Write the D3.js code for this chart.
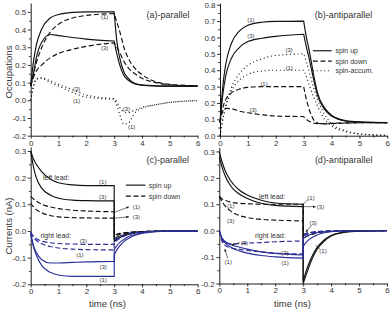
<!DOCTYPE html>
<html>
<head>
<meta charset="utf-8">
<script src="https://cdn.jsdelivr.net/npm/d3@7"></script>
<style>
  body { margin: 0; background: #fff; }
  svg { display: block; font-family: "Liberation Sans", Arial, sans-serif; }
</style>
</head>
<body>
<svg id="chart" width="390" height="310"></svg>
<script>
// time grid (ns): bias on from 0 to 3, relaxation after switch-off from 3 to 6
const time = [0, 0.1, 0.2, 0.4, 0.7, 1, 1.5, 2, 3, 3, 3.1, 3.2, 3.35, 3.5, 3.75, 4, 4.5, 5, 6];

// (a) occupations, parallel
const aUp1  = [0.08, 0.22, 0.31, 0.405, 0.465, 0.485, 0.497, 0.5, 0.5, 0.5, 0.33, 0.24, 0.16, 0.125, 0.095, 0.087, 0.082, 0.08, 0.08];
const aUp3  = [0.08, 0.15, 0.24, 0.33, 0.372, 0.366, 0.355, 0.346, 0.335, 0.335, 0.26, 0.2, 0.14, 0.115, 0.093, 0.085, 0.081, 0.08, 0.08];
const aDn1  = [0.08, 0.15, 0.21, 0.3, 0.385, 0.43, 0.465, 0.48, 0.49, 0.49, 0.44, 0.39, 0.3, 0.24, 0.18, 0.145, 0.105, 0.09, 0.082];
const aDn3  = [0.08, 0.13, 0.165, 0.2, 0.24, 0.265, 0.288, 0.305, 0.325, 0.325, 0.3, 0.27, 0.22, 0.185, 0.15, 0.125, 0.1, 0.088, 0.081];
const aAcc1 = [0, 0.08, 0.12, 0.125, 0.1, 0.08, 0.045, 0.018, 0.006, 0.006, -0.03, -0.08, -0.135, -0.13, -0.07, -0.045, -0.025, -0.012, -0.002];
const aAcc3 = [0, 0.08, 0.12, 0.128, 0.11, 0.09, 0.06, 0.03, 0.01, 0.01, -0.01, -0.04, -0.065, -0.07, -0.055, -0.04, -0.025, -0.012, -0.002];

// (b) occupations, antiparallel
const bUp1  = [0.08, 0.3, 0.43, 0.56, 0.64, 0.675, 0.693, 0.698, 0.7, 0.7, 0.6, 0.52, 0.38, 0.26, 0.17, 0.125, 0.092, 0.084, 0.08];
const bUp3  = [0.08, 0.25, 0.36, 0.47, 0.54, 0.575, 0.595, 0.607, 0.62, 0.62, 0.54, 0.47, 0.35, 0.245, 0.16, 0.12, 0.09, 0.083, 0.08];
const bDn1  = [0.08, 0.17, 0.22, 0.26, 0.285, 0.295, 0.3, 0.3, 0.3, 0.3, 0.22, 0.16, 0.1, 0.078, 0.072, 0.074, 0.077, 0.079, 0.08];
const bDn3  = [0.08, 0.15, 0.167, 0.165, 0.15, 0.14, 0.128, 0.12, 0.117, 0.117, 0.1, 0.088, 0.078, 0.074, 0.074, 0.076, 0.078, 0.079, 0.08];
const bAcc1 = [0, 0.1, 0.17, 0.27, 0.34, 0.375, 0.395, 0.4, 0.4, 0.4, 0.36, 0.31, 0.24, 0.18, 0.1, 0.06, 0.025, 0.01, 0.002];
const bAcc3 = [0, 0.1, 0.18, 0.29, 0.38, 0.43, 0.47, 0.49, 0.5, 0.5, 0.45, 0.39, 0.3, 0.22, 0.13, 0.075, 0.03, 0.012, 0.002];

// (c) currents, parallel  (L = left lead, R = right lead)
const cLUp1 = [0.3, 0.27, 0.25, 0.222, 0.195, 0.181, 0.173, 0.17, 0.17, -0.04, -0.031, -0.025, -0.018, -0.013, -0.007, -0.004, -0.001, 0, 0];
const cLUp3 = [0.3, 0.24, 0.2, 0.16, 0.135, 0.123, 0.116, 0.114, 0.113, -0.03, -0.023, -0.019, -0.014, -0.01, -0.005, -0.003, -0.001, 0, 0];
const cLDn1 = [0.13, 0.12, 0.112, 0.1, 0.09, 0.084, 0.078, 0.075, 0.072, -0.02, -0.016, -0.012, -0.009, -0.006, -0.004, -0.002, -0.001, 0, 0];
const cLDn3 = [0.105, 0.09, 0.08, 0.068, 0.058, 0.053, 0.05, 0.049, 0.048, -0.015, -0.012, -0.009, -0.007, -0.005, -0.003, -0.002, 0, 0, 0];
const cRUp1 = [-0.01, -0.06, -0.09, -0.13, -0.155, -0.165, -0.17, -0.17, -0.17, -0.09, -0.07, -0.056, -0.04, -0.029, -0.016, -0.009, -0.003, -0.001, 0];
const cRUp3 = [-0.01, -0.055, -0.08, -0.108, -0.12, -0.12, -0.118, -0.116, -0.114, -0.07, -0.055, -0.043, -0.032, -0.022, -0.013, -0.007, -0.002, -0.001, 0];
const cRDn1 = [-0.005, -0.025, -0.035, -0.048, -0.058, -0.064, -0.068, -0.07, -0.071, -0.045, -0.035, -0.028, -0.02, -0.014, -0.008, -0.005, -0.001, 0, 0];
const cRDn3 = [-0.005, -0.02, -0.028, -0.038, -0.044, -0.047, -0.049, -0.05, -0.05, -0.035, -0.027, -0.022, -0.016, -0.011, -0.006, -0.004, -0.001, 0, 0];

// (d) currents, antiparallel
const dLUp1 = [0.3, 0.26, 0.23, 0.19, 0.155, 0.135, 0.115, 0.105, 0.1, -0.2, -0.17, -0.14, -0.1, -0.07, -0.04, -0.02, -0.006, -0.002, 0];
const dLUp3 = [0.28, 0.24, 0.21, 0.17, 0.14, 0.122, 0.104, 0.096, 0.091, -0.19, -0.155, -0.125, -0.09, -0.063, -0.035, -0.018, -0.005, -0.001, 0];
const dLDn1 = [0.13, 0.12, 0.115, 0.108, 0.104, 0.102, 0.1, 0.1, 0.1, -0.03, -0.023, -0.018, -0.013, -0.009, -0.005, -0.003, -0.001, 0, 0];
const dLDn3 = [0.13, 0.11, 0.095, 0.075, 0.058, 0.05, 0.043, 0.04, 0.037, -0.015, -0.011, -0.008, -0.006, -0.004, -0.002, -0.001, 0, 0, 0];
const dRUp1 = [0, -0.03, -0.045, -0.062, -0.076, -0.085, -0.094, -0.099, -0.104, -0.06, -0.045, -0.035, -0.024, -0.016, -0.008, -0.004, -0.001, 0, 0];
const dRUp3 = [0, -0.028, -0.04, -0.052, -0.062, -0.07, -0.08, -0.086, -0.092, -0.03, -0.022, -0.017, -0.011, -0.007, -0.004, -0.002, 0, 0, 0];
const dRDn1 = [0, -0.04, -0.055, -0.065, -0.07, -0.075, -0.08, -0.085, -0.088, -0.02, -0.015, -0.011, -0.007, -0.005, -0.003, -0.001, 0, 0, 0];
const dRDn3 = [0, -0.035, -0.045, -0.05, -0.049, -0.047, -0.045, -0.042, -0.039, -0.015, -0.011, -0.008, -0.005, -0.003, -0.002, -0.001, 0, 0, 0];

// ticks
const timeTicks = [0, 1, 2, 3, 4, 5, 6];
const timeMinor = [0.5, 1.5, 2.5, 3.5, 4.5, 5.5];
const occTicksA = [-0.2, -0.1, 0, 0.1, 0.2, 0.3, 0.4, 0.5];
const occMinorA = [-0.15, -0.05, 0.05, 0.15, 0.25, 0.35, 0.45];
const occTicksB = [0, 0.1, 0.2, 0.3, 0.4, 0.5, 0.6, 0.7, 0.8];
const occMinorB = [0.05, 0.15, 0.25, 0.35, 0.45, 0.55, 0.65, 0.75];
const curTicks = [-0.2, -0.1, 0, 0.1, 0.2, 0.3];
const curMinor = [-0.15, -0.05, 0.05, 0.15, 0.25];

const ink = '#111', blue = '#2b2e95', txt = '#333';
const SOLID = null, DASH = '5,2.6', DOT = '1,2.8';

const svg = d3.select('#chart');

svg.append('defs').append('marker')
  .attr('id', 'arr').attr('viewBox', '0 0 6 6').attr('refX', 5).attr('refY', 3)
  .attr('markerWidth', 5).attr('markerHeight', 5).attr('orient', 'auto')
  .append('path').attr('d', 'M0,0.5L6,3L0,5.5Z').attr('fill', '#222');

const panels = [
  {
    xr: [30.7, 197.6], yr: [135.7, 3], ydom: [-0.2, 0.55], yt: occTicksA, ym: occMinorA, pad: 2,
    title: '(a)-parallel', titleAt: [4.16, 0.485],
    series: [[aUp1, ink, SOLID], [aUp3, ink, SOLID], [aDn1, ink, DASH], [aDn3, ink, DASH], [aAcc1, ink, DOT], [aAcc3, ink, DOT]],
    labels: [[2.66, 0.47, '(1)'], [2.66, 0.298, '(3)'], [1.65, 0.065, '(3)'], [1.65, -0.001, '(1)'], [3.44, -0.048, '(3)'], [3.63, -0.148, '(1)']],
    arrows: [], notes: [], legend: null
  },
  {
    xr: [220, 387.3], yr: [135.7, 3.1], ydom: [0, 0.81], yt: occTicksB, ym: occMinorB, pad: 2,
    title: '(b)-antiparallel', titleAt: [3.4, 0.739],
    series: [[bUp1, ink, SOLID], [bUp3, ink, SOLID], [bDn1, ink, DASH], [bDn3, ink, DASH], [bAcc1, ink, DOT], [bAcc3, ink, DOT]],
    labels: [[1.11, 0.707, '(1)'], [1.11, 0.61, '(3)'], [2.48, 0.523, '(3)'], [2.48, 0.415, '(1)'], [1.58, 0.314, '(1)'], [1.19, 0.157, '(3)']],
    arrows: [], notes: [],
    legend: { x1: 3.33, x2: 4.01, xt: 4.14, rows: [[0.519, SOLID, 'spin up'], [0.456, DASH, 'spin down'], [0.397, DOT, 'spin-accum.']] }
  },
  {
    xr: [30.7, 197.7], yr: [284.3, 147], ydom: [-0.2, 0.315], yt: curTicks, ym: curMinor, pad: 0.8,
    title: '(c)-parallel', titleAt: [4.16, 0.266],
    series: [[cLUp1, ink, SOLID], [cLUp3, ink, SOLID], [cLDn1, ink, DASH], [cLDn3, ink, DASH],
             [cRUp1, blue, SOLID], [cRUp3, blue, SOLID], [cRDn1, blue, DASH], [cRDn3, blue, DASH]],
    labels: [[2.59, 0.183, '(1)'], [2.59, 0.126, '(3)'], [3.8, 0.09, '(1)'], [3.8, 0.053, '(3)'],
             [1.89, -0.036, '(3)'], [1.77, -0.09, '(1)'], [2.6, -0.134, '(3)'], [2.6, -0.184, '(1)']],
    arrows: [[3.03, 0.071, 3.52, 0.09, true], [3.03, 0.048, 3.52, 0.053, true]],
    notes: [[0.44, 0.2, 'left lead:'], [0.35, -0.018, 'right lead:']],
    legend: { x1: 3.42, x2: 4.12, xt: 4.24, rows: [[0.172, SOLID, 'spin up'], [0.131, DASH, 'spin down']] }
  },
  {
    xr: [219.3, 387], yr: [283.5, 147.5], ydom: [-0.2, 0.315], yt: curTicks, ym: curMinor, pad: 0.8,
    title: '(d)-antiparallel', titleAt: [3.42, 0.267],
    series: [[dLUp1, ink, SOLID], [dLUp3, ink, SOLID], [dLDn1, ink, DASH], [dLDn3, ink, DASH],
             [dRUp1, blue, SOLID], [dRUp3, blue, SOLID], [dRDn1, blue, DASH], [dRDn3, blue, DASH]],
    labels: [[3.28, 0.125, '(1)'], [3.62, 0.091, '(3)'], [0.41, 0.093, '(1)'], [0.41, 0.038, '(3)'],
             [0.9, -0.046, '(3)'], [0.32, -0.118, '(1)'], [2.35, -0.084, '(3)'], [2.35, -0.122, '(1)'],
             [3.36, 0.03, '(3)'], [3.71, -0.078, '(1)']],
    arrows: [[3.02, 0.091, 3.44, 0.091, true], [3.0, 0.1, 3.17, 0.118, false],
             [0.74, -0.045, 0.45, -0.054, true], [0.3, -0.105, 0.2, -0.07, true],
             [3.3, 0.02, 3.1, -0.005, true], [3.6, -0.07, 3.45, -0.055, false]],
    notes: [[1.42, 0.129, 'left lead:'], [1.275, -0.017, 'right lead:']],
    legend: null
  }
];

function styleAxis(g, fs) {
  g.attr('font-family', null).attr('font-size', null);
  g.select('.domain').attr('stroke', '#000').attr('stroke-width', 0.9);
  g.selectAll('.tick line').attr('stroke', '#000').attr('stroke-width', 0.8);
  g.selectAll('.tick text').attr('fill', txt).style('font-size', fs + 'px');
}

function drawPanel(p) {
  const x = d3.scaleLinear().domain([0, 6]).range(p.xr);
  const y = d3.scaleLinear().domain(p.ydom).range(p.yr);
  const g = svg.append('g');

  // minor ticks first, then the major axes
  g.append('g').attr('transform', `translate(0,${p.yr[0]})`)
    .call(d3.axisBottom(x).tickValues(timeMinor).tickSize(1.8).tickFormat(''))
    .call(a => { a.select('.domain').remove(); styleAxis(a, 8); });
  g.append('g').attr('transform', `translate(${p.xr[0]},0)`)
    .call(d3.axisLeft(y).tickValues(p.ym).tickSize(1.8).tickFormat(''))
    .call(a => { a.select('.domain').remove(); styleAxis(a, 8); });

  g.append('g').attr('transform', `translate(0,${p.yr[0]})`)
    .call(d3.axisBottom(x).tickValues(timeTicks).tickSize(3).tickPadding(p.pad).tickSizeOuter(0).tickFormat(d3.format('d')))
    .call(a => styleAxis(a, 8));
  g.append('g').attr('transform', `translate(${p.xr[0]},0)`)
    .call(d3.axisLeft(y).tickValues(p.yt).tickSize(3).tickPadding(1.5).tickSizeOuter(0).tickFormat(d => d.toFixed(1)))
    .call(a => styleAxis(a, 8));

  // curves: two smooth pieces joined by a vertical step at t = 3
  const line = d3.line().x(d => x(d[0])).y(d => y(d[1])).curve(d3.curveMonotoneX);
  p.series.forEach(([vals, col, dash]) => {
    const pts = time.map((t, i) => [t, vals[i]]);
    const first = line(pts.slice(0, 9));
    const second = line(pts.slice(9));
    g.append('path')
      .attr('d', first + 'L' + second.slice(1))
      .attr('fill', 'none')
      .attr('stroke', col)
      .attr('stroke-width', 1.15)
      .attr('stroke-dasharray', dash);
  });

  g.selectAll('.lab').data(p.labels).join('text')
    .attr('x', d => x(d[0])).attr('y', d => y(d[1])).attr('dy', '0.35em')
    .attr('text-anchor', 'middle').attr('fill', txt).style('font-size', '6px')
    .text(d => d[2]);

  p.arrows.forEach(([t1, v1, t2, v2, head]) => {
    g.append('line')
      .attr('x1', x(t1)).attr('y1', y(v1)).attr('x2', x(t2)).attr('y2', y(v2))
      .attr('stroke', '#222').attr('stroke-width', 0.6)
      .attr('marker-end', head ? 'url(#arr)' : null);
  });

  g.selectAll('.note').data(p.notes).join('text')
    .attr('x', d => x(d[0])).attr('y', d => y(d[1])).attr('dy', '0.35em')
    .attr('fill', txt).style('font-size', '7px')
    .text(d => d[2]);

  g.append('text')
    .attr('x', x(p.titleAt[0])).attr('y', y(p.titleAt[1])).attr('dy', '0.35em')
    .attr('fill', txt).style('font-size', '9px')
    .text(p.title);

  if (p.legend) {
    const L = p.legend;
    L.rows.forEach(([v, dash, name]) => {
      g.append('line')
        .attr('x1', x(L.x1)).attr('x2', x(L.x2)).attr('y1', y(v)).attr('y2', y(v))
        .attr('stroke', ink).attr('stroke-width', 1.15).attr('stroke-dasharray', dash);
      g.append('text')
        .attr('x', x(L.xt)).attr('y', y(v)).attr('dy', '0.35em')
        .attr('fill', txt).style('font-size', '7px')
        .text(name);
    });
  }
}

panels.forEach(drawPanel);

// axis titles
svg.append('text')
  .attr('transform', 'translate(9,72) rotate(-90)')
  .attr('text-anchor', 'middle').attr('dy', '0.35em')
  .attr('fill', txt).style('font-size', '9.5px')
  .text('Occupations');
svg.append('text')
  .attr('transform', 'translate(8.5,226) rotate(-90)')
  .attr('text-anchor', 'middle').attr('dy', '0.35em')
  .attr('fill', txt).style('font-size', '9.5px')
  .text('Currents (nA)');
[107.5, 292.5].forEach(cx => {
  svg.append('text')
    .attr('x', cx).attr('y', 303.5).attr('dy', '0.35em')
    .attr('text-anchor', 'middle')
    .attr('fill', txt).style('font-size', '9.5px')
    .text('time (ns)');
});
</script>
</body>
</html>
